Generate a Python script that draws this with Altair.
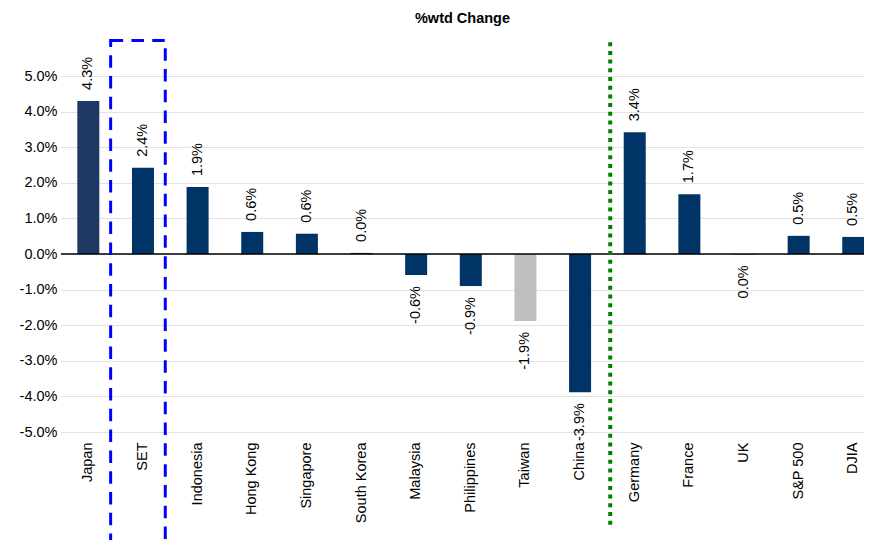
import altair as alt
import pandas as pd

# ---- data ----
countries = ["Japan", "SET", "Indonesia", "Hong Kong", "Singapore", "South Korea",
             "Malaysia", "Philippines", "Taiwan", "China", "Germany", "France",
             "UK", "S&P 500", "DJIA"]
wtd_change = [4.30, 2.42, 1.88, 0.62, 0.57, 0.03, -0.59, -0.90, -1.88, -3.88,
              3.42, 1.68, -0.01, 0.51, 0.48]
y_ticks = [-5, -4, -3, -2, -1, 0, 1, 2, 3, 4, 5]

# annotation extents (in % units)
box_category = ["SET"]
box_top = [6.0]
box_bottom = [-9.5]
sep_category = ["Germany"]
sep_top = [5.95]
sep_bottom = [-7.7]

FONT = "Liberation Sans"

df = pd.DataFrame({"country": countries, "v": wtd_change})
box_df = pd.DataFrame({"country": box_category, "top": box_top, "bottom": box_bottom})
sep_df = pd.DataFrame({"country": sep_category, "top": sep_top, "bottom": sep_bottom})
zero_df = pd.DataFrame({"z": [0]})

x_scale = alt.Scale(range=[0, 819.6], padding=0)
y_scale = alt.Scale(domain=[-5, 5], nice=False)


def X():
    return alt.X("country:N", sort=countries, scale=x_scale, title=None)


def Y(field):
    return alt.Y(field, scale=y_scale, title=None)


color = (alt.when(alt.datum.country == "Japan").then(alt.value("#1F3864"))
         .when(alt.datum.country == "Taiwan").then(alt.value("#BFBFBF"))
         .otherwise(alt.value("#003366")))

bars = alt.Chart(df).mark_bar(size=22).encode(x=X(), y=Y("v:Q"), color=color)

zero = alt.Chart(zero_df).mark_rule(color="#000000", strokeWidth=1.5).encode(y=Y("z:Q"))

label_expr = "replace(format(abs(datum.v) < 0.05 ? 0 : datum.v, '.1f'), '\u2212', '-') + '%'"

pos_labels = alt.Chart(df).transform_filter("datum.v >= 0").transform_calculate(
    lbl=label_expr
).mark_text(angle=270, align="left", baseline="middle", dx=11,
            fontSize=14.5, font=FONT, color="#000000").encode(x=X(), y=Y("v:Q"), text="lbl:N")

neg_labels = alt.Chart(df).transform_filter("datum.v < 0").transform_calculate(
    lbl=label_expr
).mark_text(angle=270, align="right", baseline="middle", dx=-11,
            fontSize=14.5, font=FONT, color="#000000").encode(x=X(), y=Y("v:Q"), text="lbl:N")

box = alt.Chart(box_df).mark_rect(
    fillOpacity=0, stroke="#0000FF", strokeWidth=3, strokeDash=[12.5, 8.3], xOffset=-5
).encode(x=X(), y=Y("top:Q"), y2="bottom:Q")

sep = alt.Chart(sep_df).mark_rule(
    color="#008000", strokeWidth=4, strokeDash=[4, 4.7], xOffset=-24.5
).encode(x=X(), y=Y("top:Q"), y2="bottom:Q")

chart = alt.layer(bars, zero, pos_labels, neg_labels, box, sep).properties(
    width=803,
    height=356,
    autosize=alt.AutoSizeParams(type="none"),
    padding={"left": 53, "top": 68, "right": 0, "bottom": 108},
    title=alt.TitleParams("%wtd Change", fontSize=14.5, fontWeight="bold", font=FONT,
                          color="#000000", anchor="middle", offset=12),
).configure_view(stroke=None).configure_axisX(
    labelAngle=-90, labelPadding=10, ticks=False, domain=False, grid=False,
    labelFontSize=14.5, labelColor="#000000", labelFont=FONT,
).configure_axisY(
    values=y_ticks,
    labelExpr="replace(format(datum.value, '.1f'), '\u2212', '-') + '%'",
    grid=True, gridDash=[1, 1], gridColor="#c4c4c4", ticks=False, domain=False,
    labelPadding=4, labelFontSize=14.5, labelColor="#000000", labelFont=FONT,
)

chart.save("out.html", embed_options={"renderer": "svg", "actions": False})
